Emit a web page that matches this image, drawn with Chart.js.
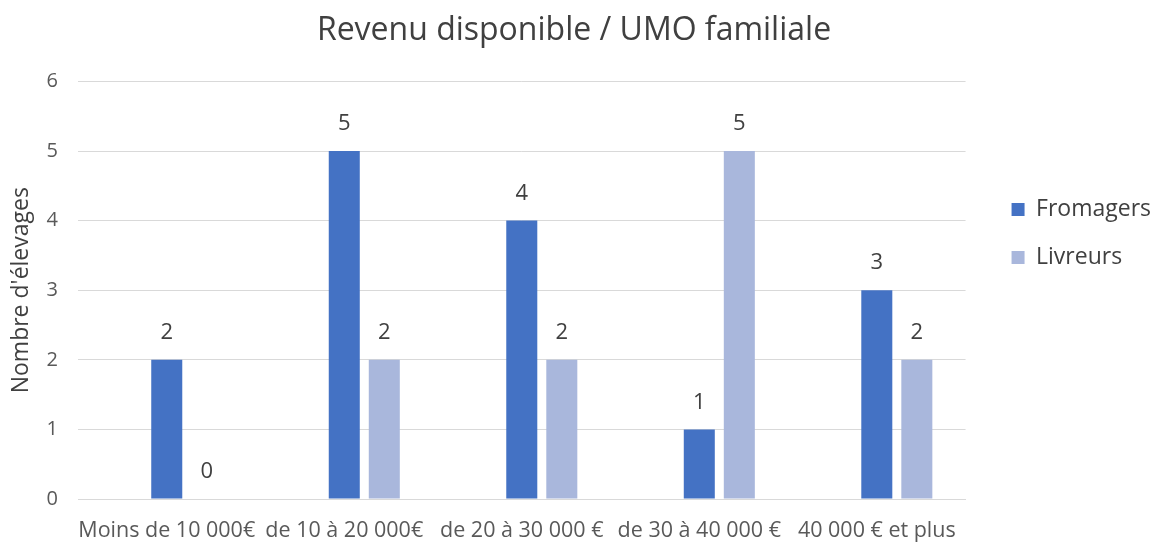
<!DOCTYPE html>
<html>
<head>
<meta charset="utf-8">
<script src="https://cdn.jsdelivr.net/npm/chart.js@4"></script>
<style>
  body { margin: 0; background: #fff; }
  #wrap { width: 1155px; height: 543px; }
</style>
</head>
<body>
<div id="wrap"><canvas id="grafica"></canvas></div>
<script>
const categories = ["Moins de 10 000€", "de 10 à 20 000€", "de 20 à 30 000 €", "de 30 à 40 000 €", "40 000 € et plus"];
const fromagers = [2, 5, 4, 1, 3];
const livreurs = [0, 2, 2, 5, 2];
const yTicks = [0, 1, 2, 3, 4, 5, 6];

const fuente = "'Open Sans', sans-serif";

// valeurs au-dessus des barres
const etiquettes = {
  id: "etiquettes",
  afterDatasetsDraw(chart) {
    const ctx = chart.ctx;
    ctx.save();
    ctx.font = "22px " + fuente;
    ctx.fillStyle = "#404040";
    ctx.textAlign = "center";
    ctx.textBaseline = "middle";
    chart.data.datasets.forEach((ds, i) => {
      const meta = chart.getDatasetMeta(i);
      meta.data.forEach((bar, j) => {
        ctx.fillText(String(ds.data[j]), bar.x, bar.y - 27);
      });
    });
    ctx.restore();
  }
};

// déplacer la légende (haut / droite)
const legendePos = {
  id: "legendePos",
  afterLayout(chart) {
    chart.legend.top -= 38;
    chart.legend.bottom -= 38;
    chart.legend.left += 21;
    chart.legend.right += 21;
  }
};

// série vide en premier : comme dans Excel, les Fromagers restent au centre de la catégorie
const opcionesBarra = { categoryPercentage: 0.6765, barPercentage: 0.775 };

new Chart(document.getElementById("grafica"), {
  type: "bar",
  data: {
    labels: categories,
    datasets: [
      { label: "", data: [], ...opcionesBarra },
      { label: "Fromagers", data: fromagers, backgroundColor: "#4472C4", ...opcionesBarra },
      { label: "Livreurs", data: livreurs, backgroundColor: "#A9B7DC", ...opcionesBarra }
    ]
  },
  options: {
    responsive: true,
    maintainAspectRatio: false,
    animation: false,
    layout: { padding: { left: 8, right: 15, top: 0, bottom: 0 } },
    plugins: {
      title: {
        display: true,
        text: "Revenu disponible / UMO familiale",
        color: "#404040",
        font: { family: fuente, size: 32, weight: "normal" },
        padding: { top: 12, bottom: 31 }
      },
      legend: {
        position: "right",
        labels: {
          color: "#404040",
          font: { family: fuente, size: 23 },
          boxWidth: 13,
          boxHeight: 13,
          padding: 25,
          filter: (item) => item.text !== ""
        }
      },
      tooltip: { enabled: false }
    },
    scales: {
      x: {
        afterFit: (axis) => { axis.height = 44; },
        grid: { display: false },
        border: { color: "#d9d9d9" },
        ticks: { color: "#595959", font: { family: fuente, size: 21.5 }, maxRotation: 0, autoSkip: false, padding: 11 }
      },
      y: {
        min: 0,
        max: 6,
        afterBuildTicks: (axis) => { axis.ticks = yTicks.map(v => ({ value: v })); },
        afterFit: (axis) => { axis.width = 70; },
        grid: { color: "#d9d9d9", drawTicks: false },
        border: { display: false },
        ticks: { color: "#595959", font: { family: fuente, size: 20 }, padding: 20 },
        title: { display: true, text: "Nombre d'élevages", color: "#404040", font: { family: fuente, size: 23 }, padding: 0 }
      }
    }
  },
  plugins: [etiquettes, legendePos]
});
</script>
</body>
</html>
